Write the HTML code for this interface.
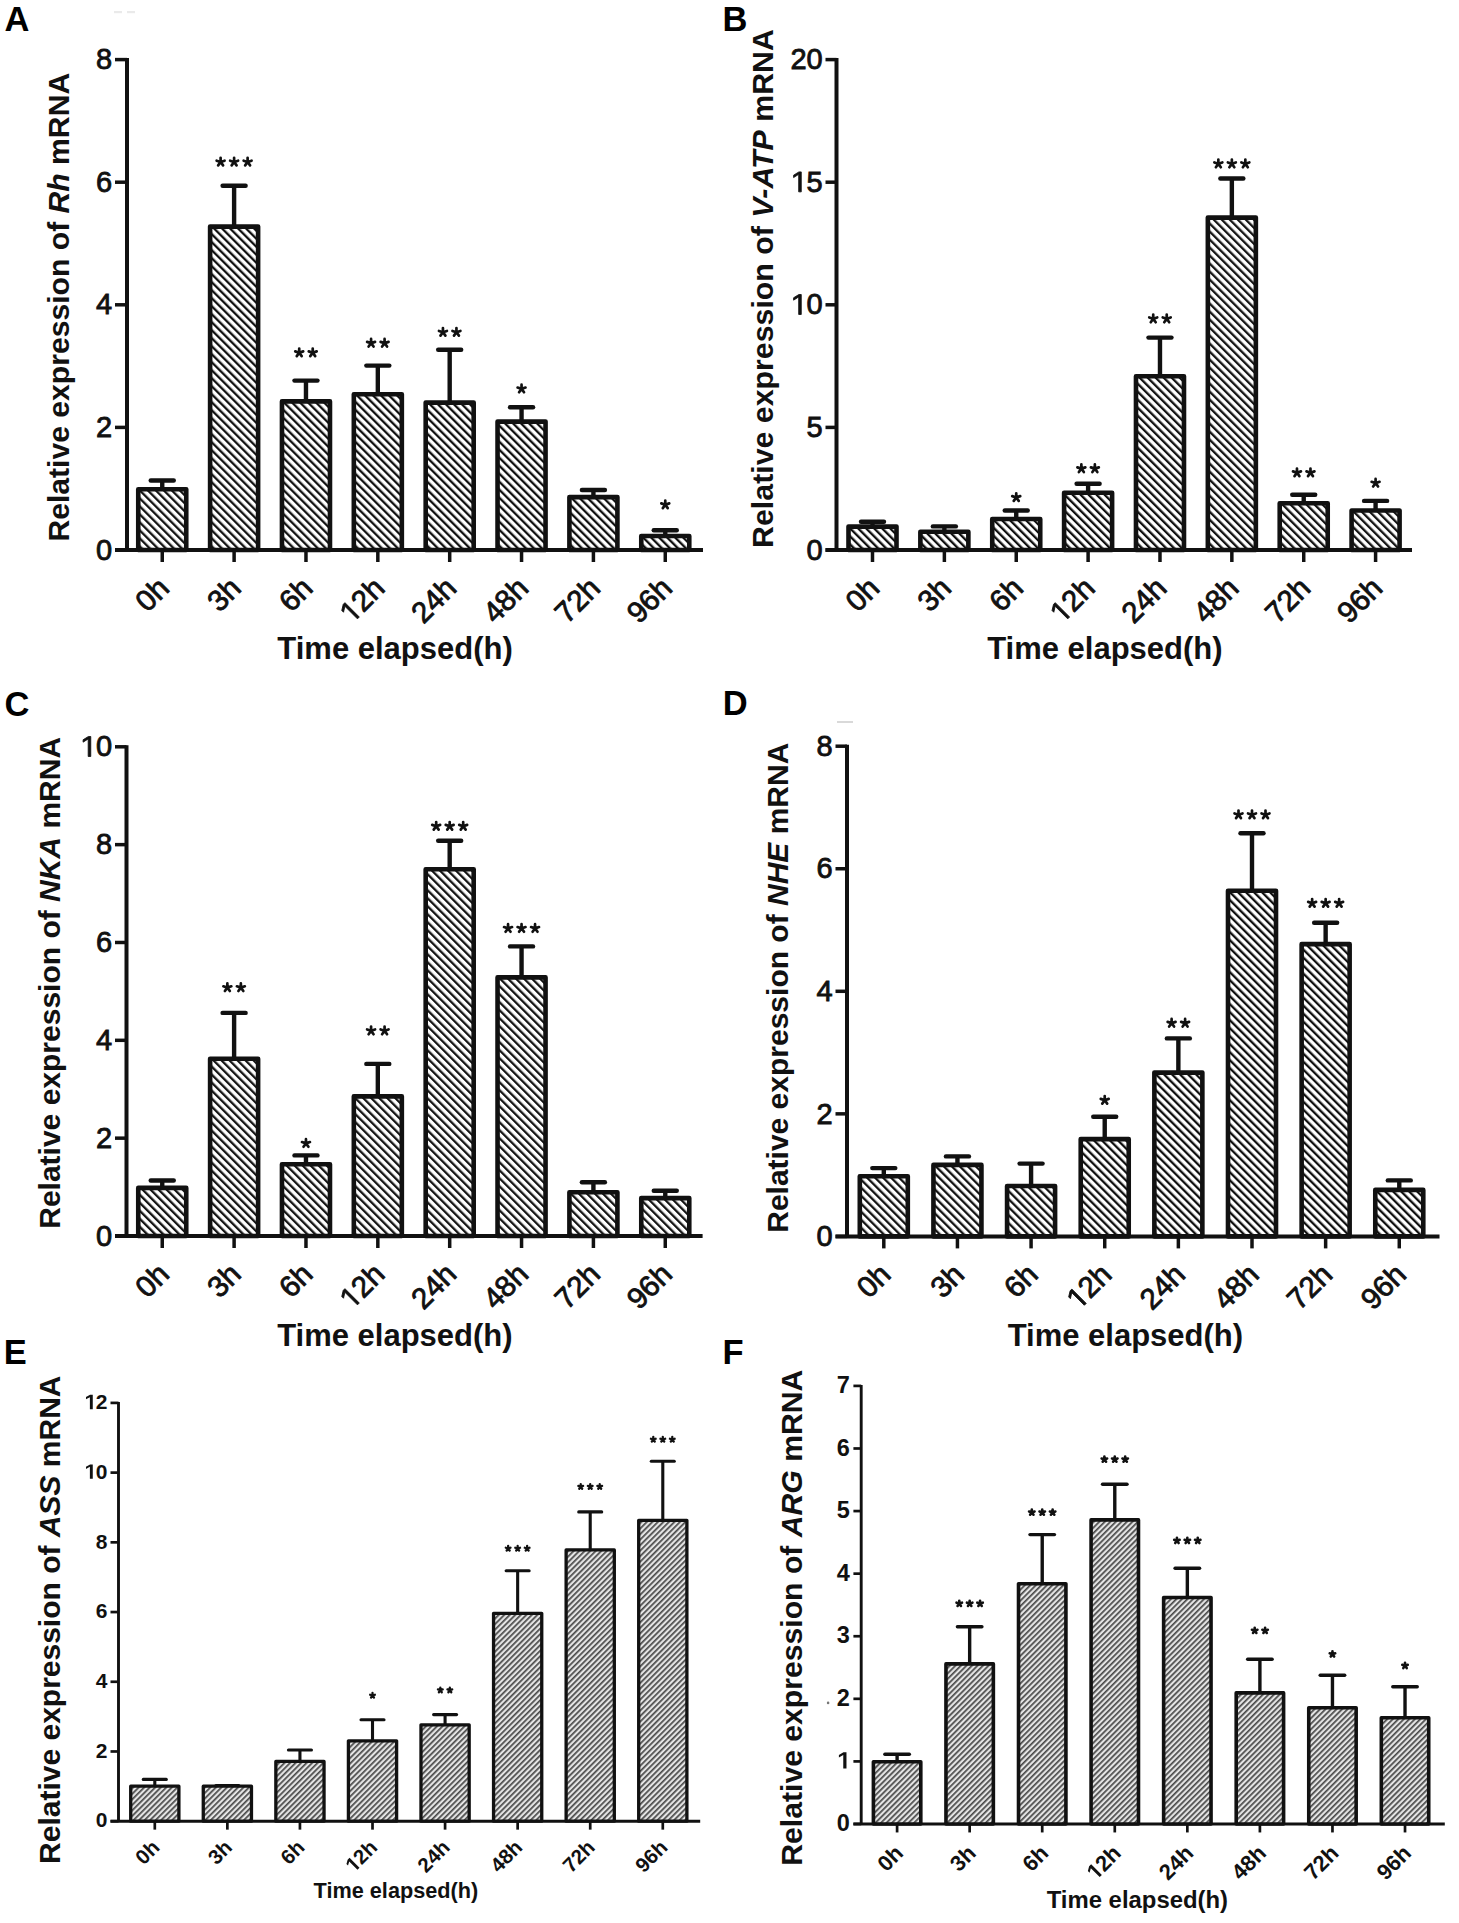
<!DOCTYPE html><html><head><meta charset="utf-8"><title>Figure</title><style>html,body{margin:0;padding:0;background:#fff;}svg{display:block;}text{font-family:"Liberation Sans", sans-serif;}</style></head><body>
<svg width="1459" height="1923" viewBox="0 0 1459 1923">
<defs>
<pattern id="hb" patternUnits="userSpaceOnUse" width="5.66" height="5.66" patternTransform="rotate(-45)"><rect width="5.66" height="5.66" fill="#fff"/><rect x="0" y="0" width="2.3" height="5.66" fill="#111"/></pattern>
<pattern id="hs" patternUnits="userSpaceOnUse" width="3.9" height="3.9" patternTransform="rotate(45)"><rect width="3.9" height="3.9" fill="#e4e4e4"/><rect x="0" y="0" width="1.7" height="3.9" fill="#4a4a4a"/></pattern>
</defs>
<rect width="1459" height="1923" fill="#fff"/>
<line x1="127" y1="58.10" x2="127" y2="550" stroke="#111" stroke-width="4.0"/><line x1="115" y1="550.00" x2="127" y2="550.00" stroke="#111" stroke-width="3.5"/><text x="112.20" y="559.67" font-size="29" font-weight="normal" stroke="#111" stroke-width="0.85" text-anchor="end" fill="#111">0</text><line x1="115" y1="427.40" x2="127" y2="427.40" stroke="#111" stroke-width="3.5"/><text x="112.20" y="437.07" font-size="29" font-weight="normal" stroke="#111" stroke-width="0.85" text-anchor="end" fill="#111">2</text><line x1="115" y1="304.80" x2="127" y2="304.80" stroke="#111" stroke-width="3.5"/><text x="112.20" y="314.47" font-size="29" font-weight="normal" stroke="#111" stroke-width="0.85" text-anchor="end" fill="#111">4</text><line x1="115" y1="182.20" x2="127" y2="182.20" stroke="#111" stroke-width="3.5"/><text x="112.20" y="191.87" font-size="29" font-weight="normal" stroke="#111" stroke-width="0.85" text-anchor="end" fill="#111">6</text><line x1="115" y1="59.60" x2="127" y2="59.60" stroke="#111" stroke-width="3.5"/><text x="112.20" y="69.27" font-size="29" font-weight="normal" stroke="#111" stroke-width="0.85" text-anchor="end" fill="#111">8</text><line x1="115" y1="550" x2="703" y2="550" stroke="#111" stroke-width="4.0"/><line x1="162.25" y1="480.50" x2="162.25" y2="488.00" stroke="#111" stroke-width="4.4"/><line x1="150.75" y1="480.50" x2="173.75" y2="480.50" stroke="#111" stroke-width="4.4" stroke-linecap="round"/><rect x="138.25" y="489.30" width="48.00" height="60.70" fill="url(#hb)" stroke="#111" stroke-width="4.6" stroke-linejoin="round"/><line x1="162.25" y1="550" x2="162.25" y2="562.00" stroke="#111" stroke-width="3.5"/><g transform="translate(170.75,590.00) rotate(-45)"><text x="0.00" y="0.00" font-size="29.5" font-weight="normal" stroke="#111" stroke-width="0.85" text-anchor="end" fill="#111">0h</text></g><line x1="234.11" y1="185.70" x2="234.11" y2="225.30" stroke="#111" stroke-width="4.4"/><line x1="222.61" y1="185.70" x2="245.61" y2="185.70" stroke="#111" stroke-width="4.4" stroke-linecap="round"/><rect x="210.11" y="226.60" width="48.00" height="323.40" fill="url(#hb)" stroke="#111" stroke-width="4.6" stroke-linejoin="round"/><line x1="234.11" y1="550" x2="234.11" y2="562.00" stroke="#111" stroke-width="3.5"/><g transform="translate(242.61,590.00) rotate(-45)"><text x="0.00" y="0.00" font-size="29.5" font-weight="normal" stroke="#111" stroke-width="0.85" text-anchor="end" fill="#111">3h</text></g><path d="M220.61 162.00L220.61 157.80M220.61 162.00L224.60 160.70M220.61 162.00L223.08 165.40M220.61 162.00L218.14 165.40M220.61 162.00L216.62 160.70" stroke="#111" stroke-width="2.7" stroke-linecap="round" fill="none"/><path d="M234.11 162.00L234.11 157.80M234.11 162.00L238.10 160.70M234.11 162.00L236.58 165.40M234.11 162.00L231.64 165.40M234.11 162.00L230.12 160.70" stroke="#111" stroke-width="2.7" stroke-linecap="round" fill="none"/><path d="M247.61 162.00L247.61 157.80M247.61 162.00L251.60 160.70M247.61 162.00L250.08 165.40M247.61 162.00L245.14 165.40M247.61 162.00L243.62 160.70" stroke="#111" stroke-width="2.7" stroke-linecap="round" fill="none"/><line x1="305.97" y1="380.60" x2="305.97" y2="400.10" stroke="#111" stroke-width="4.4"/><line x1="294.47" y1="380.60" x2="317.47" y2="380.60" stroke="#111" stroke-width="4.4" stroke-linecap="round"/><rect x="281.97" y="401.40" width="48.00" height="148.60" fill="url(#hb)" stroke="#111" stroke-width="4.6" stroke-linejoin="round"/><line x1="305.97" y1="550" x2="305.97" y2="562.00" stroke="#111" stroke-width="3.5"/><g transform="translate(314.47,590.00) rotate(-45)"><text x="0.00" y="0.00" font-size="29.5" font-weight="normal" stroke="#111" stroke-width="0.85" text-anchor="end" fill="#111">6h</text></g><path d="M299.22 352.70L299.22 348.50M299.22 352.70L303.21 351.40M299.22 352.70L301.69 356.10M299.22 352.70L296.75 356.10M299.22 352.70L295.23 351.40" stroke="#111" stroke-width="2.7" stroke-linecap="round" fill="none"/><path d="M312.72 352.70L312.72 348.50M312.72 352.70L316.71 351.40M312.72 352.70L315.19 356.10M312.72 352.70L310.25 356.10M312.72 352.70L308.73 351.40" stroke="#111" stroke-width="2.7" stroke-linecap="round" fill="none"/><line x1="377.83" y1="365.60" x2="377.83" y2="392.90" stroke="#111" stroke-width="4.4"/><line x1="366.33" y1="365.60" x2="389.33" y2="365.60" stroke="#111" stroke-width="4.4" stroke-linecap="round"/><rect x="353.83" y="394.20" width="48.00" height="155.80" fill="url(#hb)" stroke="#111" stroke-width="4.6" stroke-linejoin="round"/><line x1="377.83" y1="550" x2="377.83" y2="562.00" stroke="#111" stroke-width="3.5"/><g transform="translate(386.33,590.00) rotate(-45)"><path d="M-40.82 0.00 L-40.82 -17.82 L-46.01 -14.55 L-46.01 -17.00 L-40.61 -20.30 L-38.21 -20.30 L-38.21 0.00 Z" stroke="#111" stroke-width="0.85" fill="#111"/><text x="-32.81" y="0.00" font-size="29.5" font-weight="normal" stroke="#111" stroke-width="0.85" fill="#111">2h</text></g><path d="M371.08 343.15L371.08 338.95M371.08 343.15L375.07 341.85M371.08 343.15L373.55 346.55M371.08 343.15L368.61 346.55M371.08 343.15L367.09 341.85" stroke="#111" stroke-width="2.7" stroke-linecap="round" fill="none"/><path d="M384.58 343.15L384.58 338.95M384.58 343.15L388.57 341.85M384.58 343.15L387.05 346.55M384.58 343.15L382.11 346.55M384.58 343.15L380.59 341.85" stroke="#111" stroke-width="2.7" stroke-linecap="round" fill="none"/><line x1="449.69" y1="349.80" x2="449.69" y2="401.30" stroke="#111" stroke-width="4.4"/><line x1="438.19" y1="349.80" x2="461.19" y2="349.80" stroke="#111" stroke-width="4.4" stroke-linecap="round"/><rect x="425.69" y="402.60" width="48.00" height="147.40" fill="url(#hb)" stroke="#111" stroke-width="4.6" stroke-linejoin="round"/><line x1="449.69" y1="550" x2="449.69" y2="562.00" stroke="#111" stroke-width="3.5"/><g transform="translate(458.19,590.00) rotate(-45)"><text x="0.00" y="0.00" font-size="29.5" font-weight="normal" stroke="#111" stroke-width="0.85" text-anchor="end" fill="#111">24h</text></g><path d="M442.94 332.25L442.94 328.05M442.94 332.25L446.93 330.95M442.94 332.25L445.41 335.65M442.94 332.25L440.47 335.65M442.94 332.25L438.95 330.95" stroke="#111" stroke-width="2.7" stroke-linecap="round" fill="none"/><path d="M456.44 332.25L456.44 328.05M456.44 332.25L460.43 330.95M456.44 332.25L458.91 335.65M456.44 332.25L453.97 335.65M456.44 332.25L452.45 330.95" stroke="#111" stroke-width="2.7" stroke-linecap="round" fill="none"/><line x1="521.55" y1="407.30" x2="521.55" y2="420.30" stroke="#111" stroke-width="4.4"/><line x1="510.05" y1="407.30" x2="533.05" y2="407.30" stroke="#111" stroke-width="4.4" stroke-linecap="round"/><rect x="497.55" y="421.60" width="48.00" height="128.40" fill="url(#hb)" stroke="#111" stroke-width="4.6" stroke-linejoin="round"/><line x1="521.55" y1="550" x2="521.55" y2="562.00" stroke="#111" stroke-width="3.5"/><g transform="translate(530.05,590.00) rotate(-45)"><text x="0.00" y="0.00" font-size="29.5" font-weight="normal" stroke="#111" stroke-width="0.85" text-anchor="end" fill="#111">48h</text></g><path d="M521.55 388.85L521.55 384.65M521.55 388.85L525.54 387.55M521.55 388.85L524.02 392.25M521.55 388.85L519.08 392.25M521.55 388.85L517.56 387.55" stroke="#111" stroke-width="2.7" stroke-linecap="round" fill="none"/><line x1="593.41" y1="490.00" x2="593.41" y2="495.80" stroke="#111" stroke-width="4.4"/><line x1="581.91" y1="490.00" x2="604.91" y2="490.00" stroke="#111" stroke-width="4.4" stroke-linecap="round"/><rect x="569.41" y="497.10" width="48.00" height="52.90" fill="url(#hb)" stroke="#111" stroke-width="4.6" stroke-linejoin="round"/><line x1="593.41" y1="550" x2="593.41" y2="562.00" stroke="#111" stroke-width="3.5"/><g transform="translate(601.91,590.00) rotate(-45)"><text x="0.00" y="0.00" font-size="29.5" font-weight="normal" stroke="#111" stroke-width="0.85" text-anchor="end" fill="#111">72h</text></g><line x1="665.27" y1="530.30" x2="665.27" y2="534.70" stroke="#111" stroke-width="4.4"/><line x1="653.77" y1="530.30" x2="676.77" y2="530.30" stroke="#111" stroke-width="4.4" stroke-linecap="round"/><rect x="641.27" y="536.00" width="48.00" height="14.00" fill="url(#hb)" stroke="#111" stroke-width="4.6" stroke-linejoin="round"/><line x1="665.27" y1="550" x2="665.27" y2="562.00" stroke="#111" stroke-width="3.5"/><g transform="translate(673.77,590.00) rotate(-45)"><text x="0.00" y="0.00" font-size="29.5" font-weight="normal" stroke="#111" stroke-width="0.85" text-anchor="end" fill="#111">96h</text></g><path d="M665.27 504.70L665.27 500.50M665.27 504.70L669.26 503.40M665.27 504.70L667.74 508.10M665.27 504.70L662.80 508.10M665.27 504.70L661.28 503.40" stroke="#111" stroke-width="2.7" stroke-linecap="round" fill="none"/><text transform="translate(68.9,307.2) rotate(-90)" font-size="30" font-weight="bold" text-anchor="middle" textLength="468.7" lengthAdjust="spacingAndGlyphs" fill="#111">Relative expression of <tspan font-style="italic">Rh</tspan> mRNA</text><text x="277.35" y="659" font-size="31" font-weight="bold" fill="#111">Time elapsed(h)</text><text x="4.6" y="30.8" font-size="34.5" font-weight="bold" fill="#000">A</text>
<line x1="836.5" y1="58.10" x2="836.5" y2="550" stroke="#111" stroke-width="4.0"/><line x1="825.5" y1="550.00" x2="836.5" y2="550.00" stroke="#111" stroke-width="3.5"/><text x="822.70" y="559.67" font-size="29" font-weight="normal" stroke="#111" stroke-width="0.85" text-anchor="end" fill="#111">0</text><line x1="825.5" y1="427.40" x2="836.5" y2="427.40" stroke="#111" stroke-width="3.5"/><text x="822.70" y="437.07" font-size="29" font-weight="normal" stroke="#111" stroke-width="0.85" text-anchor="end" fill="#111">5</text><line x1="825.5" y1="304.80" x2="836.5" y2="304.80" stroke="#111" stroke-width="3.5"/><path d="M798.70 314.47 L798.70 296.95 L793.60 300.16 L793.60 297.76 L798.91 294.51 L801.26 294.51 L801.26 314.47 Z" stroke="#111" stroke-width="0.85" fill="#111"/><text x="806.57" y="314.47" font-size="29" font-weight="normal" stroke="#111" stroke-width="0.85" fill="#111">0</text><line x1="825.5" y1="182.20" x2="836.5" y2="182.20" stroke="#111" stroke-width="3.5"/><path d="M798.70 191.87 L798.70 174.35 L793.60 177.56 L793.60 175.16 L798.91 171.91 L801.26 171.91 L801.26 191.87 Z" stroke="#111" stroke-width="0.85" fill="#111"/><text x="806.57" y="191.87" font-size="29" font-weight="normal" stroke="#111" stroke-width="0.85" fill="#111">5</text><line x1="825.5" y1="59.60" x2="836.5" y2="59.60" stroke="#111" stroke-width="3.5"/><text x="822.70" y="69.27" font-size="29" font-weight="normal" stroke="#111" stroke-width="0.85" text-anchor="end" fill="#111">20</text><line x1="825.5" y1="550" x2="1412" y2="550" stroke="#111" stroke-width="4.0"/><line x1="872.50" y1="521.80" x2="872.50" y2="525.30" stroke="#111" stroke-width="4.4"/><line x1="861.00" y1="521.80" x2="884.00" y2="521.80" stroke="#111" stroke-width="4.4" stroke-linecap="round"/><rect x="848.50" y="526.60" width="48.00" height="23.40" fill="url(#hb)" stroke="#111" stroke-width="4.6" stroke-linejoin="round"/><line x1="872.50" y1="550" x2="872.50" y2="562.00" stroke="#111" stroke-width="3.5"/><g transform="translate(881.00,590.00) rotate(-45)"><text x="0.00" y="0.00" font-size="29.5" font-weight="normal" stroke="#111" stroke-width="0.85" text-anchor="end" fill="#111">0h</text></g><line x1="944.37" y1="526.40" x2="944.37" y2="530.50" stroke="#111" stroke-width="4.4"/><line x1="932.87" y1="526.40" x2="955.87" y2="526.40" stroke="#111" stroke-width="4.4" stroke-linecap="round"/><rect x="920.37" y="531.80" width="48.00" height="18.20" fill="url(#hb)" stroke="#111" stroke-width="4.6" stroke-linejoin="round"/><line x1="944.37" y1="550" x2="944.37" y2="562.00" stroke="#111" stroke-width="3.5"/><g transform="translate(952.87,590.00) rotate(-45)"><text x="0.00" y="0.00" font-size="29.5" font-weight="normal" stroke="#111" stroke-width="0.85" text-anchor="end" fill="#111">3h</text></g><line x1="1016.24" y1="510.50" x2="1016.24" y2="517.70" stroke="#111" stroke-width="4.4"/><line x1="1004.74" y1="510.50" x2="1027.74" y2="510.50" stroke="#111" stroke-width="4.4" stroke-linecap="round"/><rect x="992.24" y="519.00" width="48.00" height="31.00" fill="url(#hb)" stroke="#111" stroke-width="4.6" stroke-linejoin="round"/><line x1="1016.24" y1="550" x2="1016.24" y2="562.00" stroke="#111" stroke-width="3.5"/><g transform="translate(1024.74,590.00) rotate(-45)"><text x="0.00" y="0.00" font-size="29.5" font-weight="normal" stroke="#111" stroke-width="0.85" text-anchor="end" fill="#111">6h</text></g><path d="M1016.24 497.45L1016.24 493.25M1016.24 497.45L1020.23 496.15M1016.24 497.45L1018.71 500.85M1016.24 497.45L1013.77 500.85M1016.24 497.45L1012.25 496.15" stroke="#111" stroke-width="2.7" stroke-linecap="round" fill="none"/><line x1="1088.11" y1="483.80" x2="1088.11" y2="491.40" stroke="#111" stroke-width="4.4"/><line x1="1076.61" y1="483.80" x2="1099.61" y2="483.80" stroke="#111" stroke-width="4.4" stroke-linecap="round"/><rect x="1064.11" y="492.70" width="48.00" height="57.30" fill="url(#hb)" stroke="#111" stroke-width="4.6" stroke-linejoin="round"/><line x1="1088.11" y1="550" x2="1088.11" y2="562.00" stroke="#111" stroke-width="3.5"/><g transform="translate(1096.61,590.00) rotate(-45)"><path d="M-40.82 0.00 L-40.82 -17.82 L-46.01 -14.55 L-46.01 -17.00 L-40.61 -20.30 L-38.21 -20.30 L-38.21 0.00 Z" stroke="#111" stroke-width="0.85" fill="#111"/><text x="-32.81" y="0.00" font-size="29.5" font-weight="normal" stroke="#111" stroke-width="0.85" fill="#111">2h</text></g><path d="M1081.36 468.65L1081.36 464.45M1081.36 468.65L1085.35 467.35M1081.36 468.65L1083.83 472.05M1081.36 468.65L1078.89 472.05M1081.36 468.65L1077.37 467.35" stroke="#111" stroke-width="2.7" stroke-linecap="round" fill="none"/><path d="M1094.86 468.65L1094.86 464.45M1094.86 468.65L1098.85 467.35M1094.86 468.65L1097.33 472.05M1094.86 468.65L1092.39 472.05M1094.86 468.65L1090.87 467.35" stroke="#111" stroke-width="2.7" stroke-linecap="round" fill="none"/><line x1="1159.98" y1="337.60" x2="1159.98" y2="375.00" stroke="#111" stroke-width="4.4"/><line x1="1148.48" y1="337.60" x2="1171.48" y2="337.60" stroke="#111" stroke-width="4.4" stroke-linecap="round"/><rect x="1135.98" y="376.30" width="48.00" height="173.70" fill="url(#hb)" stroke="#111" stroke-width="4.6" stroke-linejoin="round"/><line x1="1159.98" y1="550" x2="1159.98" y2="562.00" stroke="#111" stroke-width="3.5"/><g transform="translate(1168.48,590.00) rotate(-45)"><text x="0.00" y="0.00" font-size="29.5" font-weight="normal" stroke="#111" stroke-width="0.85" text-anchor="end" fill="#111">24h</text></g><path d="M1153.23 318.80L1153.23 314.60M1153.23 318.80L1157.22 317.50M1153.23 318.80L1155.70 322.20M1153.23 318.80L1150.76 322.20M1153.23 318.80L1149.24 317.50" stroke="#111" stroke-width="2.7" stroke-linecap="round" fill="none"/><path d="M1166.73 318.80L1166.73 314.60M1166.73 318.80L1170.72 317.50M1166.73 318.80L1169.20 322.20M1166.73 318.80L1164.26 322.20M1166.73 318.80L1162.74 317.50" stroke="#111" stroke-width="2.7" stroke-linecap="round" fill="none"/><line x1="1231.85" y1="178.50" x2="1231.85" y2="216.30" stroke="#111" stroke-width="4.4"/><line x1="1220.35" y1="178.50" x2="1243.35" y2="178.50" stroke="#111" stroke-width="4.4" stroke-linecap="round"/><rect x="1207.85" y="217.60" width="48.00" height="332.40" fill="url(#hb)" stroke="#111" stroke-width="4.6" stroke-linejoin="round"/><line x1="1231.85" y1="550" x2="1231.85" y2="562.00" stroke="#111" stroke-width="3.5"/><g transform="translate(1240.35,590.00) rotate(-45)"><text x="0.00" y="0.00" font-size="29.5" font-weight="normal" stroke="#111" stroke-width="0.85" text-anchor="end" fill="#111">48h</text></g><path d="M1218.35 163.80L1218.35 159.60M1218.35 163.80L1222.34 162.50M1218.35 163.80L1220.82 167.20M1218.35 163.80L1215.88 167.20M1218.35 163.80L1214.36 162.50" stroke="#111" stroke-width="2.7" stroke-linecap="round" fill="none"/><path d="M1231.85 163.80L1231.85 159.60M1231.85 163.80L1235.84 162.50M1231.85 163.80L1234.32 167.20M1231.85 163.80L1229.38 167.20M1231.85 163.80L1227.86 162.50" stroke="#111" stroke-width="2.7" stroke-linecap="round" fill="none"/><path d="M1245.35 163.80L1245.35 159.60M1245.35 163.80L1249.34 162.50M1245.35 163.80L1247.82 167.20M1245.35 163.80L1242.88 167.20M1245.35 163.80L1241.36 162.50" stroke="#111" stroke-width="2.7" stroke-linecap="round" fill="none"/><line x1="1303.72" y1="494.70" x2="1303.72" y2="501.90" stroke="#111" stroke-width="4.4"/><line x1="1292.22" y1="494.70" x2="1315.22" y2="494.70" stroke="#111" stroke-width="4.4" stroke-linecap="round"/><rect x="1279.72" y="503.20" width="48.00" height="46.80" fill="url(#hb)" stroke="#111" stroke-width="4.6" stroke-linejoin="round"/><line x1="1303.72" y1="550" x2="1303.72" y2="562.00" stroke="#111" stroke-width="3.5"/><g transform="translate(1312.22,590.00) rotate(-45)"><text x="0.00" y="0.00" font-size="29.5" font-weight="normal" stroke="#111" stroke-width="0.85" text-anchor="end" fill="#111">72h</text></g><path d="M1296.97 472.70L1296.97 468.50M1296.97 472.70L1300.96 471.40M1296.97 472.70L1299.44 476.10M1296.97 472.70L1294.50 476.10M1296.97 472.70L1292.98 471.40" stroke="#111" stroke-width="2.7" stroke-linecap="round" fill="none"/><path d="M1310.47 472.70L1310.47 468.50M1310.47 472.70L1314.46 471.40M1310.47 472.70L1312.94 476.10M1310.47 472.70L1308.00 476.10M1310.47 472.70L1306.48 471.40" stroke="#111" stroke-width="2.7" stroke-linecap="round" fill="none"/><line x1="1375.59" y1="500.90" x2="1375.59" y2="509.20" stroke="#111" stroke-width="4.4"/><line x1="1364.09" y1="500.90" x2="1387.09" y2="500.90" stroke="#111" stroke-width="4.4" stroke-linecap="round"/><rect x="1351.59" y="510.50" width="48.00" height="39.50" fill="url(#hb)" stroke="#111" stroke-width="4.6" stroke-linejoin="round"/><line x1="1375.59" y1="550" x2="1375.59" y2="562.00" stroke="#111" stroke-width="3.5"/><g transform="translate(1384.09,590.00) rotate(-45)"><text x="0.00" y="0.00" font-size="29.5" font-weight="normal" stroke="#111" stroke-width="0.85" text-anchor="end" fill="#111">96h</text></g><path d="M1375.59 483.10L1375.59 478.90M1375.59 483.10L1379.58 481.80M1375.59 483.10L1378.06 486.50M1375.59 483.10L1373.12 486.50M1375.59 483.10L1371.60 481.80" stroke="#111" stroke-width="2.7" stroke-linecap="round" fill="none"/><text transform="translate(773.1,288.5) rotate(-90)" font-size="30" font-weight="bold" text-anchor="middle" textLength="518.8" lengthAdjust="spacingAndGlyphs" fill="#111">Relative expression of <tspan font-style="italic">V-ATP</tspan> mRNA</text><text x="987.15" y="659.1" font-size="31" font-weight="bold" fill="#111">Time elapsed(h)</text><text x="722.5" y="30.7" font-size="34.5" font-weight="bold" fill="#000">B</text>
<line x1="126.5" y1="745.30" x2="126.5" y2="1236" stroke="#111" stroke-width="4.0"/><line x1="115" y1="1236.00" x2="126.5" y2="1236.00" stroke="#111" stroke-width="3.5"/><text x="112.20" y="1245.67" font-size="29" font-weight="normal" stroke="#111" stroke-width="0.85" text-anchor="end" fill="#111">0</text><line x1="115" y1="1138.16" x2="126.5" y2="1138.16" stroke="#111" stroke-width="3.5"/><text x="112.20" y="1147.83" font-size="29" font-weight="normal" stroke="#111" stroke-width="0.85" text-anchor="end" fill="#111">2</text><line x1="115" y1="1040.32" x2="126.5" y2="1040.32" stroke="#111" stroke-width="3.5"/><text x="112.20" y="1049.99" font-size="29" font-weight="normal" stroke="#111" stroke-width="0.85" text-anchor="end" fill="#111">4</text><line x1="115" y1="942.48" x2="126.5" y2="942.48" stroke="#111" stroke-width="3.5"/><text x="112.20" y="952.15" font-size="29" font-weight="normal" stroke="#111" stroke-width="0.85" text-anchor="end" fill="#111">6</text><line x1="115" y1="844.64" x2="126.5" y2="844.64" stroke="#111" stroke-width="3.5"/><text x="112.20" y="854.31" font-size="29" font-weight="normal" stroke="#111" stroke-width="0.85" text-anchor="end" fill="#111">8</text><line x1="115" y1="746.80" x2="126.5" y2="746.80" stroke="#111" stroke-width="3.5"/><path d="M88.20 756.47 L88.20 738.95 L83.10 742.16 L83.10 739.76 L88.41 736.51 L90.76 736.51 L90.76 756.47 Z" stroke="#111" stroke-width="0.85" fill="#111"/><text x="96.07" y="756.47" font-size="29" font-weight="normal" stroke="#111" stroke-width="0.85" fill="#111">0</text><line x1="115" y1="1236" x2="702.6" y2="1236" stroke="#111" stroke-width="4.0"/><line x1="162.25" y1="1180.50" x2="162.25" y2="1186.60" stroke="#111" stroke-width="4.4"/><line x1="150.75" y1="1180.50" x2="173.75" y2="1180.50" stroke="#111" stroke-width="4.4" stroke-linecap="round"/><rect x="138.25" y="1187.90" width="48.00" height="48.10" fill="url(#hb)" stroke="#111" stroke-width="4.6" stroke-linejoin="round"/><line x1="162.25" y1="1236" x2="162.25" y2="1248.00" stroke="#111" stroke-width="3.5"/><g transform="translate(170.75,1276.00) rotate(-45)"><text x="0.00" y="0.00" font-size="29.5" font-weight="normal" stroke="#111" stroke-width="0.85" text-anchor="end" fill="#111">0h</text></g><line x1="234.11" y1="1012.90" x2="234.11" y2="1057.50" stroke="#111" stroke-width="4.4"/><line x1="222.61" y1="1012.90" x2="245.61" y2="1012.90" stroke="#111" stroke-width="4.4" stroke-linecap="round"/><rect x="210.11" y="1058.80" width="48.00" height="177.20" fill="url(#hb)" stroke="#111" stroke-width="4.6" stroke-linejoin="round"/><line x1="234.11" y1="1236" x2="234.11" y2="1248.00" stroke="#111" stroke-width="3.5"/><g transform="translate(242.61,1276.00) rotate(-45)"><text x="0.00" y="0.00" font-size="29.5" font-weight="normal" stroke="#111" stroke-width="0.85" text-anchor="end" fill="#111">3h</text></g><path d="M227.36 987.60L227.36 983.40M227.36 987.60L231.35 986.30M227.36 987.60L229.83 991.00M227.36 987.60L224.89 991.00M227.36 987.60L223.37 986.30" stroke="#111" stroke-width="2.7" stroke-linecap="round" fill="none"/><path d="M240.86 987.60L240.86 983.40M240.86 987.60L244.85 986.30M240.86 987.60L243.33 991.00M240.86 987.60L238.39 991.00M240.86 987.60L236.87 986.30" stroke="#111" stroke-width="2.7" stroke-linecap="round" fill="none"/><line x1="305.97" y1="1155.40" x2="305.97" y2="1163.00" stroke="#111" stroke-width="4.4"/><line x1="294.47" y1="1155.40" x2="317.47" y2="1155.40" stroke="#111" stroke-width="4.4" stroke-linecap="round"/><rect x="281.97" y="1164.30" width="48.00" height="71.70" fill="url(#hb)" stroke="#111" stroke-width="4.6" stroke-linejoin="round"/><line x1="305.97" y1="1236" x2="305.97" y2="1248.00" stroke="#111" stroke-width="3.5"/><g transform="translate(314.47,1276.00) rotate(-45)"><text x="0.00" y="0.00" font-size="29.5" font-weight="normal" stroke="#111" stroke-width="0.85" text-anchor="end" fill="#111">6h</text></g><path d="M305.97 1143.35L305.97 1139.15M305.97 1143.35L309.96 1142.05M305.97 1143.35L308.44 1146.75M305.97 1143.35L303.50 1146.75M305.97 1143.35L301.98 1142.05" stroke="#111" stroke-width="2.7" stroke-linecap="round" fill="none"/><line x1="377.83" y1="1063.90" x2="377.83" y2="1095.10" stroke="#111" stroke-width="4.4"/><line x1="366.33" y1="1063.90" x2="389.33" y2="1063.90" stroke="#111" stroke-width="4.4" stroke-linecap="round"/><rect x="353.83" y="1096.40" width="48.00" height="139.60" fill="url(#hb)" stroke="#111" stroke-width="4.6" stroke-linejoin="round"/><line x1="377.83" y1="1236" x2="377.83" y2="1248.00" stroke="#111" stroke-width="3.5"/><g transform="translate(386.33,1276.00) rotate(-45)"><path d="M-40.82 0.00 L-40.82 -17.82 L-46.01 -14.55 L-46.01 -17.00 L-40.61 -20.30 L-38.21 -20.30 L-38.21 0.00 Z" stroke="#111" stroke-width="0.85" fill="#111"/><text x="-32.81" y="0.00" font-size="29.5" font-weight="normal" stroke="#111" stroke-width="0.85" fill="#111">2h</text></g><path d="M371.08 1030.80L371.08 1026.60M371.08 1030.80L375.07 1029.50M371.08 1030.80L373.55 1034.20M371.08 1030.80L368.61 1034.20M371.08 1030.80L367.09 1029.50" stroke="#111" stroke-width="2.7" stroke-linecap="round" fill="none"/><path d="M384.58 1030.80L384.58 1026.60M384.58 1030.80L388.57 1029.50M384.58 1030.80L387.05 1034.20M384.58 1030.80L382.11 1034.20M384.58 1030.80L380.59 1029.50" stroke="#111" stroke-width="2.7" stroke-linecap="round" fill="none"/><line x1="449.69" y1="840.70" x2="449.69" y2="868.00" stroke="#111" stroke-width="4.4"/><line x1="438.19" y1="840.70" x2="461.19" y2="840.70" stroke="#111" stroke-width="4.4" stroke-linecap="round"/><rect x="425.69" y="869.30" width="48.00" height="366.70" fill="url(#hb)" stroke="#111" stroke-width="4.6" stroke-linejoin="round"/><line x1="449.69" y1="1236" x2="449.69" y2="1248.00" stroke="#111" stroke-width="3.5"/><g transform="translate(458.19,1276.00) rotate(-45)"><text x="0.00" y="0.00" font-size="29.5" font-weight="normal" stroke="#111" stroke-width="0.85" text-anchor="end" fill="#111">24h</text></g><path d="M436.19 826.20L436.19 822.00M436.19 826.20L440.18 824.90M436.19 826.20L438.66 829.60M436.19 826.20L433.72 829.60M436.19 826.20L432.20 824.90" stroke="#111" stroke-width="2.7" stroke-linecap="round" fill="none"/><path d="M449.69 826.20L449.69 822.00M449.69 826.20L453.68 824.90M449.69 826.20L452.16 829.60M449.69 826.20L447.22 829.60M449.69 826.20L445.70 824.90" stroke="#111" stroke-width="2.7" stroke-linecap="round" fill="none"/><path d="M463.19 826.20L463.19 822.00M463.19 826.20L467.18 824.90M463.19 826.20L465.66 829.60M463.19 826.20L460.72 829.60M463.19 826.20L459.20 824.90" stroke="#111" stroke-width="2.7" stroke-linecap="round" fill="none"/><line x1="521.55" y1="946.40" x2="521.55" y2="976.10" stroke="#111" stroke-width="4.4"/><line x1="510.05" y1="946.40" x2="533.05" y2="946.40" stroke="#111" stroke-width="4.4" stroke-linecap="round"/><rect x="497.55" y="977.40" width="48.00" height="258.60" fill="url(#hb)" stroke="#111" stroke-width="4.6" stroke-linejoin="round"/><line x1="521.55" y1="1236" x2="521.55" y2="1248.00" stroke="#111" stroke-width="3.5"/><g transform="translate(530.05,1276.00) rotate(-45)"><text x="0.00" y="0.00" font-size="29.5" font-weight="normal" stroke="#111" stroke-width="0.85" text-anchor="end" fill="#111">48h</text></g><path d="M508.05 928.35L508.05 924.15M508.05 928.35L512.04 927.05M508.05 928.35L510.52 931.75M508.05 928.35L505.58 931.75M508.05 928.35L504.06 927.05" stroke="#111" stroke-width="2.7" stroke-linecap="round" fill="none"/><path d="M521.55 928.35L521.55 924.15M521.55 928.35L525.54 927.05M521.55 928.35L524.02 931.75M521.55 928.35L519.08 931.75M521.55 928.35L517.56 927.05" stroke="#111" stroke-width="2.7" stroke-linecap="round" fill="none"/><path d="M535.05 928.35L535.05 924.15M535.05 928.35L539.04 927.05M535.05 928.35L537.52 931.75M535.05 928.35L532.58 931.75M535.05 928.35L531.06 927.05" stroke="#111" stroke-width="2.7" stroke-linecap="round" fill="none"/><line x1="593.41" y1="1182.20" x2="593.41" y2="1190.90" stroke="#111" stroke-width="4.4"/><line x1="581.91" y1="1182.20" x2="604.91" y2="1182.20" stroke="#111" stroke-width="4.4" stroke-linecap="round"/><rect x="569.41" y="1192.20" width="48.00" height="43.80" fill="url(#hb)" stroke="#111" stroke-width="4.6" stroke-linejoin="round"/><line x1="593.41" y1="1236" x2="593.41" y2="1248.00" stroke="#111" stroke-width="3.5"/><g transform="translate(601.91,1276.00) rotate(-45)"><text x="0.00" y="0.00" font-size="29.5" font-weight="normal" stroke="#111" stroke-width="0.85" text-anchor="end" fill="#111">72h</text></g><line x1="665.27" y1="1190.80" x2="665.27" y2="1196.80" stroke="#111" stroke-width="4.4"/><line x1="653.77" y1="1190.80" x2="676.77" y2="1190.80" stroke="#111" stroke-width="4.4" stroke-linecap="round"/><rect x="641.27" y="1198.10" width="48.00" height="37.90" fill="url(#hb)" stroke="#111" stroke-width="4.6" stroke-linejoin="round"/><line x1="665.27" y1="1236" x2="665.27" y2="1248.00" stroke="#111" stroke-width="3.5"/><g transform="translate(673.77,1276.00) rotate(-45)"><text x="0.00" y="0.00" font-size="29.5" font-weight="normal" stroke="#111" stroke-width="0.85" text-anchor="end" fill="#111">96h</text></g><text transform="translate(60.3,982.85) rotate(-90)" font-size="30" font-weight="bold" text-anchor="middle" fill="#111">Relative expression of <tspan font-style="italic">NKA</tspan> mRNA</text><text x="277.15" y="1345.6" font-size="31" font-weight="bold" fill="#111">Time elapsed(h)</text><text x="4.4" y="715.7" font-size="34.5" font-weight="bold" fill="#000">C</text>
<line x1="847" y1="744.70" x2="847" y2="1236.4" stroke="#111" stroke-width="4.0"/><line x1="835.5" y1="1236.40" x2="847" y2="1236.40" stroke="#111" stroke-width="3.5"/><text x="832.70" y="1246.07" font-size="29" font-weight="normal" stroke="#111" stroke-width="0.85" text-anchor="end" fill="#111">0</text><line x1="835.5" y1="1113.85" x2="847" y2="1113.85" stroke="#111" stroke-width="3.5"/><text x="832.70" y="1123.52" font-size="29" font-weight="normal" stroke="#111" stroke-width="0.85" text-anchor="end" fill="#111">2</text><line x1="835.5" y1="991.30" x2="847" y2="991.30" stroke="#111" stroke-width="3.5"/><text x="832.70" y="1000.97" font-size="29" font-weight="normal" stroke="#111" stroke-width="0.85" text-anchor="end" fill="#111">4</text><line x1="835.5" y1="868.75" x2="847" y2="868.75" stroke="#111" stroke-width="3.5"/><text x="832.70" y="878.42" font-size="29" font-weight="normal" stroke="#111" stroke-width="0.85" text-anchor="end" fill="#111">6</text><line x1="835.5" y1="746.20" x2="847" y2="746.20" stroke="#111" stroke-width="3.5"/><text x="832.70" y="755.87" font-size="29" font-weight="normal" stroke="#111" stroke-width="0.85" text-anchor="end" fill="#111">8</text><line x1="835.5" y1="1236.4" x2="1439.5" y2="1236.4" stroke="#111" stroke-width="4.0"/><line x1="883.80" y1="1168.10" x2="883.80" y2="1174.90" stroke="#111" stroke-width="4.4"/><line x1="872.30" y1="1168.10" x2="895.30" y2="1168.10" stroke="#111" stroke-width="4.4" stroke-linecap="round"/><rect x="859.80" y="1176.20" width="48.00" height="60.20" fill="url(#hb)" stroke="#111" stroke-width="4.6" stroke-linejoin="round"/><line x1="883.80" y1="1236.4" x2="883.80" y2="1248.40" stroke="#111" stroke-width="3.5"/><g transform="translate(892.30,1276.40) rotate(-45)"><text x="0.00" y="0.00" font-size="29.5" font-weight="normal" stroke="#111" stroke-width="0.85" text-anchor="end" fill="#111">0h</text></g><line x1="957.44" y1="1156.40" x2="957.44" y2="1163.60" stroke="#111" stroke-width="4.4"/><line x1="945.94" y1="1156.40" x2="968.94" y2="1156.40" stroke="#111" stroke-width="4.4" stroke-linecap="round"/><rect x="933.44" y="1164.90" width="48.00" height="71.50" fill="url(#hb)" stroke="#111" stroke-width="4.6" stroke-linejoin="round"/><line x1="957.44" y1="1236.4" x2="957.44" y2="1248.40" stroke="#111" stroke-width="3.5"/><g transform="translate(965.94,1276.40) rotate(-45)"><text x="0.00" y="0.00" font-size="29.5" font-weight="normal" stroke="#111" stroke-width="0.85" text-anchor="end" fill="#111">3h</text></g><line x1="1031.08" y1="1163.60" x2="1031.08" y2="1184.70" stroke="#111" stroke-width="4.4"/><line x1="1019.58" y1="1163.60" x2="1042.58" y2="1163.60" stroke="#111" stroke-width="4.4" stroke-linecap="round"/><rect x="1007.08" y="1186.00" width="48.00" height="50.40" fill="url(#hb)" stroke="#111" stroke-width="4.6" stroke-linejoin="round"/><line x1="1031.08" y1="1236.4" x2="1031.08" y2="1248.40" stroke="#111" stroke-width="3.5"/><g transform="translate(1039.58,1276.40) rotate(-45)"><text x="0.00" y="0.00" font-size="29.5" font-weight="normal" stroke="#111" stroke-width="0.85" text-anchor="end" fill="#111">6h</text></g><line x1="1104.72" y1="1116.70" x2="1104.72" y2="1137.80" stroke="#111" stroke-width="4.4"/><line x1="1093.22" y1="1116.70" x2="1116.22" y2="1116.70" stroke="#111" stroke-width="4.4" stroke-linecap="round"/><rect x="1080.72" y="1139.10" width="48.00" height="97.30" fill="url(#hb)" stroke="#111" stroke-width="4.6" stroke-linejoin="round"/><line x1="1104.72" y1="1236.4" x2="1104.72" y2="1248.40" stroke="#111" stroke-width="3.5"/><g transform="translate(1113.22,1276.40) rotate(-45)"><path d="M-40.82 0.00 L-40.82 -17.82 L-46.01 -14.55 L-46.01 -17.00 L-40.61 -20.30 L-38.21 -20.30 L-38.21 0.00 Z" stroke="#111" stroke-width="0.85" fill="#111"/><text x="-32.81" y="0.00" font-size="29.5" font-weight="normal" stroke="#111" stroke-width="0.85" fill="#111">2h</text></g><path d="M1104.72 1100.20L1104.72 1096.00M1104.72 1100.20L1108.71 1098.90M1104.72 1100.20L1107.19 1103.60M1104.72 1100.20L1102.25 1103.60M1104.72 1100.20L1100.73 1098.90" stroke="#111" stroke-width="2.7" stroke-linecap="round" fill="none"/><line x1="1178.36" y1="1038.40" x2="1178.36" y2="1071.30" stroke="#111" stroke-width="4.4"/><line x1="1166.86" y1="1038.40" x2="1189.86" y2="1038.40" stroke="#111" stroke-width="4.4" stroke-linecap="round"/><rect x="1154.36" y="1072.60" width="48.00" height="163.80" fill="url(#hb)" stroke="#111" stroke-width="4.6" stroke-linejoin="round"/><line x1="1178.36" y1="1236.4" x2="1178.36" y2="1248.40" stroke="#111" stroke-width="3.5"/><g transform="translate(1186.86,1276.40) rotate(-45)"><text x="0.00" y="0.00" font-size="29.5" font-weight="normal" stroke="#111" stroke-width="0.85" text-anchor="end" fill="#111">24h</text></g><path d="M1171.61 1023.15L1171.61 1018.95M1171.61 1023.15L1175.60 1021.85M1171.61 1023.15L1174.08 1026.55M1171.61 1023.15L1169.14 1026.55M1171.61 1023.15L1167.62 1021.85" stroke="#111" stroke-width="2.7" stroke-linecap="round" fill="none"/><path d="M1185.11 1023.15L1185.11 1018.95M1185.11 1023.15L1189.10 1021.85M1185.11 1023.15L1187.58 1026.55M1185.11 1023.15L1182.64 1026.55M1185.11 1023.15L1181.12 1021.85" stroke="#111" stroke-width="2.7" stroke-linecap="round" fill="none"/><line x1="1252.00" y1="833.20" x2="1252.00" y2="889.40" stroke="#111" stroke-width="4.4"/><line x1="1240.50" y1="833.20" x2="1263.50" y2="833.20" stroke="#111" stroke-width="4.4" stroke-linecap="round"/><rect x="1228.00" y="890.70" width="48.00" height="345.70" fill="url(#hb)" stroke="#111" stroke-width="4.6" stroke-linejoin="round"/><line x1="1252.00" y1="1236.4" x2="1252.00" y2="1248.40" stroke="#111" stroke-width="3.5"/><g transform="translate(1260.50,1276.40) rotate(-45)"><text x="0.00" y="0.00" font-size="29.5" font-weight="normal" stroke="#111" stroke-width="0.85" text-anchor="end" fill="#111">48h</text></g><path d="M1238.50 814.75L1238.50 810.55M1238.50 814.75L1242.49 813.45M1238.50 814.75L1240.97 818.15M1238.50 814.75L1236.03 818.15M1238.50 814.75L1234.51 813.45" stroke="#111" stroke-width="2.7" stroke-linecap="round" fill="none"/><path d="M1252.00 814.75L1252.00 810.55M1252.00 814.75L1255.99 813.45M1252.00 814.75L1254.47 818.15M1252.00 814.75L1249.53 818.15M1252.00 814.75L1248.01 813.45" stroke="#111" stroke-width="2.7" stroke-linecap="round" fill="none"/><path d="M1265.50 814.75L1265.50 810.55M1265.50 814.75L1269.49 813.45M1265.50 814.75L1267.97 818.15M1265.50 814.75L1263.03 818.15M1265.50 814.75L1261.51 813.45" stroke="#111" stroke-width="2.7" stroke-linecap="round" fill="none"/><line x1="1325.64" y1="922.80" x2="1325.64" y2="942.80" stroke="#111" stroke-width="4.4"/><line x1="1314.14" y1="922.80" x2="1337.14" y2="922.80" stroke="#111" stroke-width="4.4" stroke-linecap="round"/><rect x="1301.64" y="944.10" width="48.00" height="292.30" fill="url(#hb)" stroke="#111" stroke-width="4.6" stroke-linejoin="round"/><line x1="1325.64" y1="1236.4" x2="1325.64" y2="1248.40" stroke="#111" stroke-width="3.5"/><g transform="translate(1334.14,1276.40) rotate(-45)"><text x="0.00" y="0.00" font-size="29.5" font-weight="normal" stroke="#111" stroke-width="0.85" text-anchor="end" fill="#111">72h</text></g><path d="M1312.14 903.20L1312.14 899.00M1312.14 903.20L1316.13 901.90M1312.14 903.20L1314.61 906.60M1312.14 903.20L1309.67 906.60M1312.14 903.20L1308.15 901.90" stroke="#111" stroke-width="2.7" stroke-linecap="round" fill="none"/><path d="M1325.64 903.20L1325.64 899.00M1325.64 903.20L1329.63 901.90M1325.64 903.20L1328.11 906.60M1325.64 903.20L1323.17 906.60M1325.64 903.20L1321.65 901.90" stroke="#111" stroke-width="2.7" stroke-linecap="round" fill="none"/><path d="M1339.14 903.20L1339.14 899.00M1339.14 903.20L1343.13 901.90M1339.14 903.20L1341.61 906.60M1339.14 903.20L1336.67 906.60M1339.14 903.20L1335.15 901.90" stroke="#111" stroke-width="2.7" stroke-linecap="round" fill="none"/><line x1="1399.28" y1="1180.40" x2="1399.28" y2="1188.60" stroke="#111" stroke-width="4.4"/><line x1="1387.78" y1="1180.40" x2="1410.78" y2="1180.40" stroke="#111" stroke-width="4.4" stroke-linecap="round"/><rect x="1375.28" y="1189.90" width="48.00" height="46.50" fill="url(#hb)" stroke="#111" stroke-width="4.6" stroke-linejoin="round"/><line x1="1399.28" y1="1236.4" x2="1399.28" y2="1248.40" stroke="#111" stroke-width="3.5"/><g transform="translate(1407.78,1276.40) rotate(-45)"><text x="0.00" y="0.00" font-size="29.5" font-weight="normal" stroke="#111" stroke-width="0.85" text-anchor="end" fill="#111">96h</text></g><text transform="translate(788.4,987.7) rotate(-90)" font-size="30" font-weight="bold" text-anchor="middle" fill="#111">Relative expression of <tspan font-style="italic">NHE</tspan> mRNA</text><text x="1007.65" y="1345.8" font-size="31" font-weight="bold" fill="#111">Time elapsed(h)</text><text x="722.8" y="715.3" font-size="34.5" font-weight="bold" fill="#000">D</text>
<line x1="118.5" y1="1401.95" x2="118.5" y2="1821.2" stroke="#111" stroke-width="2.9"/><line x1="110.5" y1="1821.20" x2="118.5" y2="1821.20" stroke="#111" stroke-width="2.7"/><text x="107.50" y="1827.43" font-size="21" font-weight="bold"  text-anchor="end" fill="#111">0</text><line x1="110.5" y1="1751.48" x2="118.5" y2="1751.48" stroke="#111" stroke-width="2.7"/><text x="107.50" y="1757.72" font-size="21" font-weight="bold"  text-anchor="end" fill="#111">2</text><line x1="110.5" y1="1681.77" x2="118.5" y2="1681.77" stroke="#111" stroke-width="2.7"/><text x="107.50" y="1688.00" font-size="21" font-weight="bold"  text-anchor="end" fill="#111">4</text><line x1="110.5" y1="1612.05" x2="118.5" y2="1612.05" stroke="#111" stroke-width="2.7"/><text x="107.50" y="1618.28" font-size="21" font-weight="bold"  text-anchor="end" fill="#111">6</text><line x1="110.5" y1="1542.33" x2="118.5" y2="1542.33" stroke="#111" stroke-width="2.7"/><text x="107.50" y="1548.57" font-size="21" font-weight="bold"  text-anchor="end" fill="#111">8</text><line x1="110.5" y1="1472.62" x2="118.5" y2="1472.62" stroke="#111" stroke-width="2.7"/><path d="M89.88 1478.85 L89.88 1466.85 L85.99 1469.02 L85.99 1466.75 L90.04 1464.40 L92.77 1464.40 L92.77 1478.85 Z"  fill="#111"/><text x="95.82" y="1478.85" font-size="21" font-weight="bold"  fill="#111">0</text><line x1="110.5" y1="1402.90" x2="118.5" y2="1402.90" stroke="#111" stroke-width="2.7"/><path d="M89.88 1409.13 L89.88 1397.14 L85.99 1399.30 L85.99 1397.03 L90.04 1394.69 L92.77 1394.69 L92.77 1409.13 Z"  fill="#111"/><text x="95.82" y="1409.13" font-size="21" font-weight="bold"  fill="#111">2</text><line x1="110.5" y1="1821.2" x2="700.2" y2="1821.2" stroke="#111" stroke-width="2.9"/><line x1="154.80" y1="1779.40" x2="154.80" y2="1785.50" stroke="#111" stroke-width="3.1"/><line x1="143.30" y1="1779.40" x2="166.30" y2="1779.40" stroke="#111" stroke-width="3.1" stroke-linecap="round"/><rect x="130.70" y="1786.15" width="48.20" height="35.05" fill="url(#hs)" stroke="#111" stroke-width="3.3" stroke-linejoin="round"/><line x1="154.80" y1="1821.2" x2="154.80" y2="1829.65" stroke="#111" stroke-width="2.7"/><g transform="translate(160.80,1848.70) rotate(-45)"><text x="0.00" y="0.00" font-size="20.5" font-weight="bold"  text-anchor="end" fill="#111">0h</text></g><line x1="215.87" y1="1785.50" x2="238.87" y2="1785.50" stroke="#111" stroke-width="3.1" stroke-linecap="round"/><rect x="203.27" y="1786.15" width="48.20" height="35.05" fill="url(#hs)" stroke="#111" stroke-width="3.3" stroke-linejoin="round"/><line x1="227.37" y1="1821.2" x2="227.37" y2="1829.65" stroke="#111" stroke-width="2.7"/><g transform="translate(233.37,1848.70) rotate(-45)"><text x="0.00" y="0.00" font-size="20.5" font-weight="bold"  text-anchor="end" fill="#111">3h</text></g><line x1="299.94" y1="1750.00" x2="299.94" y2="1760.80" stroke="#111" stroke-width="3.1"/><line x1="288.44" y1="1750.00" x2="311.44" y2="1750.00" stroke="#111" stroke-width="3.1" stroke-linecap="round"/><rect x="275.84" y="1761.45" width="48.20" height="59.75" fill="url(#hs)" stroke="#111" stroke-width="3.3" stroke-linejoin="round"/><line x1="299.94" y1="1821.2" x2="299.94" y2="1829.65" stroke="#111" stroke-width="2.7"/><g transform="translate(305.94,1848.70) rotate(-45)"><text x="0.00" y="0.00" font-size="20.5" font-weight="bold"  text-anchor="end" fill="#111">6h</text></g><line x1="372.51" y1="1719.70" x2="372.51" y2="1740.20" stroke="#111" stroke-width="3.1"/><line x1="361.01" y1="1719.70" x2="384.01" y2="1719.70" stroke="#111" stroke-width="3.1" stroke-linecap="round"/><rect x="348.41" y="1740.85" width="48.20" height="80.35" fill="url(#hs)" stroke="#111" stroke-width="3.3" stroke-linejoin="round"/><line x1="372.51" y1="1821.2" x2="372.51" y2="1829.65" stroke="#111" stroke-width="2.7"/><g transform="translate(378.51,1848.70) rotate(-45)"><path d="M-29.72 0.00 L-29.72 -11.71 L-33.52 -9.60 L-33.52 -11.81 L-29.57 -14.10 L-26.91 -14.10 L-26.91 0.00 Z"  fill="#111"/><text x="-23.92" y="0.00" font-size="20.5" font-weight="bold"  fill="#111">2h</text></g><path d="M372.51 1695.50L372.51 1693.00M372.51 1695.50L374.89 1694.73M372.51 1695.50L373.98 1697.52M372.51 1695.50L371.04 1697.52M372.51 1695.50L370.13 1694.73" stroke="#111" stroke-width="2.3" stroke-linecap="round" fill="none"/><line x1="445.08" y1="1714.60" x2="445.08" y2="1724.20" stroke="#111" stroke-width="3.1"/><line x1="433.58" y1="1714.60" x2="456.58" y2="1714.60" stroke="#111" stroke-width="3.1" stroke-linecap="round"/><rect x="420.98" y="1724.85" width="48.20" height="96.35" fill="url(#hs)" stroke="#111" stroke-width="3.3" stroke-linejoin="round"/><line x1="445.08" y1="1821.2" x2="445.08" y2="1829.65" stroke="#111" stroke-width="2.7"/><g transform="translate(451.08,1848.70) rotate(-45)"><text x="0.00" y="0.00" font-size="20.5" font-weight="bold"  text-anchor="end" fill="#111">24h</text></g><path d="M440.33 1690.20L440.33 1687.70M440.33 1690.20L442.71 1689.43M440.33 1690.20L441.80 1692.22M440.33 1690.20L438.86 1692.22M440.33 1690.20L437.95 1689.43" stroke="#111" stroke-width="2.3" stroke-linecap="round" fill="none"/><path d="M449.83 1690.20L449.83 1687.70M449.83 1690.20L452.21 1689.43M449.83 1690.20L451.30 1692.22M449.83 1690.20L448.36 1692.22M449.83 1690.20L447.45 1689.43" stroke="#111" stroke-width="2.3" stroke-linecap="round" fill="none"/><line x1="517.65" y1="1570.80" x2="517.65" y2="1612.70" stroke="#111" stroke-width="3.1"/><line x1="506.15" y1="1570.80" x2="529.15" y2="1570.80" stroke="#111" stroke-width="3.1" stroke-linecap="round"/><rect x="493.55" y="1613.35" width="48.20" height="207.85" fill="url(#hs)" stroke="#111" stroke-width="3.3" stroke-linejoin="round"/><line x1="517.65" y1="1821.2" x2="517.65" y2="1829.65" stroke="#111" stroke-width="2.7"/><g transform="translate(523.65,1848.70) rotate(-45)"><text x="0.00" y="0.00" font-size="20.5" font-weight="bold"  text-anchor="end" fill="#111">48h</text></g><path d="M508.15 1548.50L508.15 1546.00M508.15 1548.50L510.53 1547.73M508.15 1548.50L509.62 1550.52M508.15 1548.50L506.68 1550.52M508.15 1548.50L505.77 1547.73" stroke="#111" stroke-width="2.3" stroke-linecap="round" fill="none"/><path d="M517.65 1548.50L517.65 1546.00M517.65 1548.50L520.03 1547.73M517.65 1548.50L519.12 1550.52M517.65 1548.50L516.18 1550.52M517.65 1548.50L515.27 1547.73" stroke="#111" stroke-width="2.3" stroke-linecap="round" fill="none"/><path d="M527.15 1548.50L527.15 1546.00M527.15 1548.50L529.53 1547.73M527.15 1548.50L528.62 1550.52M527.15 1548.50L525.68 1550.52M527.15 1548.50L524.77 1547.73" stroke="#111" stroke-width="2.3" stroke-linecap="round" fill="none"/><line x1="590.22" y1="1511.90" x2="590.22" y2="1549.30" stroke="#111" stroke-width="3.1"/><line x1="578.72" y1="1511.90" x2="601.72" y2="1511.90" stroke="#111" stroke-width="3.1" stroke-linecap="round"/><rect x="566.12" y="1549.95" width="48.20" height="271.25" fill="url(#hs)" stroke="#111" stroke-width="3.3" stroke-linejoin="round"/><line x1="590.22" y1="1821.2" x2="590.22" y2="1829.65" stroke="#111" stroke-width="2.7"/><g transform="translate(596.22,1848.70) rotate(-45)"><text x="0.00" y="0.00" font-size="20.5" font-weight="bold"  text-anchor="end" fill="#111">72h</text></g><path d="M580.72 1486.70L580.72 1484.20M580.72 1486.70L583.10 1485.93M580.72 1486.70L582.19 1488.72M580.72 1486.70L579.25 1488.72M580.72 1486.70L578.34 1485.93" stroke="#111" stroke-width="2.3" stroke-linecap="round" fill="none"/><path d="M590.22 1486.70L590.22 1484.20M590.22 1486.70L592.60 1485.93M590.22 1486.70L591.69 1488.72M590.22 1486.70L588.75 1488.72M590.22 1486.70L587.84 1485.93" stroke="#111" stroke-width="2.3" stroke-linecap="round" fill="none"/><path d="M599.72 1486.70L599.72 1484.20M599.72 1486.70L602.10 1485.93M599.72 1486.70L601.19 1488.72M599.72 1486.70L598.25 1488.72M599.72 1486.70L597.34 1485.93" stroke="#111" stroke-width="2.3" stroke-linecap="round" fill="none"/><line x1="662.79" y1="1461.30" x2="662.79" y2="1519.70" stroke="#111" stroke-width="3.1"/><line x1="651.29" y1="1461.30" x2="674.29" y2="1461.30" stroke="#111" stroke-width="3.1" stroke-linecap="round"/><rect x="638.69" y="1520.35" width="48.20" height="300.85" fill="url(#hs)" stroke="#111" stroke-width="3.3" stroke-linejoin="round"/><line x1="662.79" y1="1821.2" x2="662.79" y2="1829.65" stroke="#111" stroke-width="2.7"/><g transform="translate(668.79,1848.70) rotate(-45)"><text x="0.00" y="0.00" font-size="20.5" font-weight="bold"  text-anchor="end" fill="#111">96h</text></g><path d="M653.29 1439.50L653.29 1437.00M653.29 1439.50L655.67 1438.73M653.29 1439.50L654.76 1441.52M653.29 1439.50L651.82 1441.52M653.29 1439.50L650.91 1438.73" stroke="#111" stroke-width="2.3" stroke-linecap="round" fill="none"/><path d="M662.79 1439.50L662.79 1437.00M662.79 1439.50L665.17 1438.73M662.79 1439.50L664.26 1441.52M662.79 1439.50L661.32 1441.52M662.79 1439.50L660.41 1438.73" stroke="#111" stroke-width="2.3" stroke-linecap="round" fill="none"/><path d="M672.29 1439.50L672.29 1437.00M672.29 1439.50L674.67 1438.73M672.29 1439.50L673.76 1441.52M672.29 1439.50L670.82 1441.52M672.29 1439.50L669.91 1438.73" stroke="#111" stroke-width="2.3" stroke-linecap="round" fill="none"/><text transform="translate(59.9,1619.7) rotate(-90)" font-size="30" font-weight="bold" text-anchor="middle" fill="#111">Relative expression of <tspan font-style="italic">ASS</tspan> mRNA</text><text x="313.56" y="1898" font-size="21.7" font-weight="bold" fill="#111">Time elapsed(h)</text><text x="3.7" y="1364.3" font-size="34.5" font-weight="bold" fill="#000">E</text>
<line x1="861.2" y1="1384.95" x2="861.2" y2="1824" stroke="#111" stroke-width="2.9"/><line x1="853.4" y1="1824.00" x2="861.2" y2="1824.00" stroke="#111" stroke-width="2.7"/><text x="849.90" y="1831.12" font-size="23.5" font-weight="bold"  text-anchor="end" fill="#111">0</text><line x1="853.4" y1="1761.41" x2="861.2" y2="1761.41" stroke="#111" stroke-width="2.7"/><path d="M843.26 1768.53 L843.26 1755.11 L838.90 1757.53 L838.90 1754.99 L843.43 1752.37 L846.48 1752.37 L846.48 1768.53 Z"  fill="#111"/><line x1="853.4" y1="1698.83" x2="861.2" y2="1698.83" stroke="#111" stroke-width="2.7"/><text x="849.90" y="1705.95" font-size="23.5" font-weight="bold"  text-anchor="end" fill="#111">2</text><line x1="853.4" y1="1636.24" x2="861.2" y2="1636.24" stroke="#111" stroke-width="2.7"/><text x="849.90" y="1643.36" font-size="23.5" font-weight="bold"  text-anchor="end" fill="#111">3</text><line x1="853.4" y1="1573.66" x2="861.2" y2="1573.66" stroke="#111" stroke-width="2.7"/><text x="849.90" y="1580.78" font-size="23.5" font-weight="bold"  text-anchor="end" fill="#111">4</text><line x1="853.4" y1="1511.07" x2="861.2" y2="1511.07" stroke="#111" stroke-width="2.7"/><text x="849.90" y="1518.19" font-size="23.5" font-weight="bold"  text-anchor="end" fill="#111">5</text><line x1="853.4" y1="1448.49" x2="861.2" y2="1448.49" stroke="#111" stroke-width="2.7"/><text x="849.90" y="1455.60" font-size="23.5" font-weight="bold"  text-anchor="end" fill="#111">6</text><line x1="853.4" y1="1385.90" x2="861.2" y2="1385.90" stroke="#111" stroke-width="2.7"/><text x="849.90" y="1393.02" font-size="23.5" font-weight="bold"  text-anchor="end" fill="#111">7</text><line x1="853.4" y1="1824" x2="1444.8" y2="1824" stroke="#111" stroke-width="2.9"/><line x1="897.10" y1="1754.20" x2="897.10" y2="1760.90" stroke="#111" stroke-width="3.4"/><line x1="884.85" y1="1754.20" x2="909.35" y2="1754.20" stroke="#111" stroke-width="3.4" stroke-linecap="round"/><rect x="873.40" y="1761.70" width="47.40" height="62.30" fill="url(#hs)" stroke="#111" stroke-width="3.6" stroke-linejoin="round"/><line x1="897.10" y1="1824" x2="897.10" y2="1832.45" stroke="#111" stroke-width="2.7"/><g transform="translate(904.60,1854.50) rotate(-45)"><text x="0.00" y="0.00" font-size="22" font-weight="bold"  text-anchor="end" fill="#111">0h</text></g><line x1="969.66" y1="1626.70" x2="969.66" y2="1663.10" stroke="#111" stroke-width="3.4"/><line x1="957.41" y1="1626.70" x2="981.91" y2="1626.70" stroke="#111" stroke-width="3.4" stroke-linecap="round"/><rect x="945.96" y="1663.90" width="47.40" height="160.10" fill="url(#hs)" stroke="#111" stroke-width="3.6" stroke-linejoin="round"/><line x1="969.66" y1="1824" x2="969.66" y2="1832.45" stroke="#111" stroke-width="2.7"/><g transform="translate(977.16,1854.50) rotate(-45)"><text x="0.00" y="0.00" font-size="22" font-weight="bold"  text-anchor="end" fill="#111">3h</text></g><path d="M959.26 1603.60L959.26 1600.70M959.26 1603.60L962.02 1602.70M959.26 1603.60L960.96 1605.95M959.26 1603.60L957.56 1605.95M959.26 1603.60L956.50 1602.70" stroke="#111" stroke-width="2.6" stroke-linecap="round" fill="none"/><path d="M969.66 1603.60L969.66 1600.70M969.66 1603.60L972.42 1602.70M969.66 1603.60L971.36 1605.95M969.66 1603.60L967.96 1605.95M969.66 1603.60L966.90 1602.70" stroke="#111" stroke-width="2.6" stroke-linecap="round" fill="none"/><path d="M980.06 1603.60L980.06 1600.70M980.06 1603.60L982.82 1602.70M980.06 1603.60L981.76 1605.95M980.06 1603.60L978.36 1605.95M980.06 1603.60L977.30 1602.70" stroke="#111" stroke-width="2.6" stroke-linecap="round" fill="none"/><line x1="1042.22" y1="1534.60" x2="1042.22" y2="1582.90" stroke="#111" stroke-width="3.4"/><line x1="1029.97" y1="1534.60" x2="1054.47" y2="1534.60" stroke="#111" stroke-width="3.4" stroke-linecap="round"/><rect x="1018.52" y="1583.70" width="47.40" height="240.30" fill="url(#hs)" stroke="#111" stroke-width="3.6" stroke-linejoin="round"/><line x1="1042.22" y1="1824" x2="1042.22" y2="1832.45" stroke="#111" stroke-width="2.7"/><g transform="translate(1049.72,1854.50) rotate(-45)"><text x="0.00" y="0.00" font-size="22" font-weight="bold"  text-anchor="end" fill="#111">6h</text></g><path d="M1031.82 1512.40L1031.82 1509.50M1031.82 1512.40L1034.58 1511.50M1031.82 1512.40L1033.52 1514.75M1031.82 1512.40L1030.12 1514.75M1031.82 1512.40L1029.06 1511.50" stroke="#111" stroke-width="2.6" stroke-linecap="round" fill="none"/><path d="M1042.22 1512.40L1042.22 1509.50M1042.22 1512.40L1044.98 1511.50M1042.22 1512.40L1043.92 1514.75M1042.22 1512.40L1040.52 1514.75M1042.22 1512.40L1039.46 1511.50" stroke="#111" stroke-width="2.6" stroke-linecap="round" fill="none"/><path d="M1052.62 1512.40L1052.62 1509.50M1052.62 1512.40L1055.38 1511.50M1052.62 1512.40L1054.32 1514.75M1052.62 1512.40L1050.92 1514.75M1052.62 1512.40L1049.86 1511.50" stroke="#111" stroke-width="2.6" stroke-linecap="round" fill="none"/><line x1="1114.78" y1="1484.20" x2="1114.78" y2="1519.10" stroke="#111" stroke-width="3.4"/><line x1="1102.53" y1="1484.20" x2="1127.03" y2="1484.20" stroke="#111" stroke-width="3.4" stroke-linecap="round"/><rect x="1091.08" y="1519.90" width="47.40" height="304.10" fill="url(#hs)" stroke="#111" stroke-width="3.6" stroke-linejoin="round"/><line x1="1114.78" y1="1824" x2="1114.78" y2="1832.45" stroke="#111" stroke-width="2.7"/><g transform="translate(1122.28,1854.50) rotate(-45)"><path d="M-31.89 0.00 L-31.89 -12.57 L-35.98 -10.30 L-35.98 -12.68 L-31.73 -15.14 L-28.88 -15.14 L-28.88 0.00 Z"  fill="#111"/><text x="-25.67" y="0.00" font-size="22" font-weight="bold"  fill="#111">2h</text></g><path d="M1104.38 1459.40L1104.38 1456.50M1104.38 1459.40L1107.14 1458.50M1104.38 1459.40L1106.08 1461.75M1104.38 1459.40L1102.68 1461.75M1104.38 1459.40L1101.62 1458.50" stroke="#111" stroke-width="2.6" stroke-linecap="round" fill="none"/><path d="M1114.78 1459.40L1114.78 1456.50M1114.78 1459.40L1117.54 1458.50M1114.78 1459.40L1116.48 1461.75M1114.78 1459.40L1113.08 1461.75M1114.78 1459.40L1112.02 1458.50" stroke="#111" stroke-width="2.6" stroke-linecap="round" fill="none"/><path d="M1125.18 1459.40L1125.18 1456.50M1125.18 1459.40L1127.94 1458.50M1125.18 1459.40L1126.88 1461.75M1125.18 1459.40L1123.48 1461.75M1125.18 1459.40L1122.42 1458.50" stroke="#111" stroke-width="2.6" stroke-linecap="round" fill="none"/><line x1="1187.34" y1="1568.30" x2="1187.34" y2="1596.70" stroke="#111" stroke-width="3.4"/><line x1="1175.09" y1="1568.30" x2="1199.59" y2="1568.30" stroke="#111" stroke-width="3.4" stroke-linecap="round"/><rect x="1163.64" y="1597.50" width="47.40" height="226.50" fill="url(#hs)" stroke="#111" stroke-width="3.6" stroke-linejoin="round"/><line x1="1187.34" y1="1824" x2="1187.34" y2="1832.45" stroke="#111" stroke-width="2.7"/><g transform="translate(1194.84,1854.50) rotate(-45)"><text x="0.00" y="0.00" font-size="22" font-weight="bold"  text-anchor="end" fill="#111">24h</text></g><path d="M1176.94 1540.70L1176.94 1537.80M1176.94 1540.70L1179.70 1539.80M1176.94 1540.70L1178.64 1543.05M1176.94 1540.70L1175.24 1543.05M1176.94 1540.70L1174.18 1539.80" stroke="#111" stroke-width="2.6" stroke-linecap="round" fill="none"/><path d="M1187.34 1540.70L1187.34 1537.80M1187.34 1540.70L1190.10 1539.80M1187.34 1540.70L1189.04 1543.05M1187.34 1540.70L1185.64 1543.05M1187.34 1540.70L1184.58 1539.80" stroke="#111" stroke-width="2.6" stroke-linecap="round" fill="none"/><path d="M1197.74 1540.70L1197.74 1537.80M1197.74 1540.70L1200.50 1539.80M1197.74 1540.70L1199.44 1543.05M1197.74 1540.70L1196.04 1543.05M1197.74 1540.70L1194.98 1539.80" stroke="#111" stroke-width="2.6" stroke-linecap="round" fill="none"/><line x1="1259.90" y1="1659.30" x2="1259.90" y2="1692.10" stroke="#111" stroke-width="3.4"/><line x1="1247.65" y1="1659.30" x2="1272.15" y2="1659.30" stroke="#111" stroke-width="3.4" stroke-linecap="round"/><rect x="1236.20" y="1692.90" width="47.40" height="131.10" fill="url(#hs)" stroke="#111" stroke-width="3.6" stroke-linejoin="round"/><line x1="1259.90" y1="1824" x2="1259.90" y2="1832.45" stroke="#111" stroke-width="2.7"/><g transform="translate(1267.40,1854.50) rotate(-45)"><text x="0.00" y="0.00" font-size="22" font-weight="bold"  text-anchor="end" fill="#111">48h</text></g><path d="M1254.70 1630.65L1254.70 1627.75M1254.70 1630.65L1257.46 1629.75M1254.70 1630.65L1256.40 1633.00M1254.70 1630.65L1253.00 1633.00M1254.70 1630.65L1251.94 1629.75" stroke="#111" stroke-width="2.6" stroke-linecap="round" fill="none"/><path d="M1265.10 1630.65L1265.10 1627.75M1265.10 1630.65L1267.86 1629.75M1265.10 1630.65L1266.80 1633.00M1265.10 1630.65L1263.40 1633.00M1265.10 1630.65L1262.34 1629.75" stroke="#111" stroke-width="2.6" stroke-linecap="round" fill="none"/><line x1="1332.46" y1="1675.30" x2="1332.46" y2="1707.00" stroke="#111" stroke-width="3.4"/><line x1="1320.21" y1="1675.30" x2="1344.71" y2="1675.30" stroke="#111" stroke-width="3.4" stroke-linecap="round"/><rect x="1308.76" y="1707.80" width="47.40" height="116.20" fill="url(#hs)" stroke="#111" stroke-width="3.6" stroke-linejoin="round"/><line x1="1332.46" y1="1824" x2="1332.46" y2="1832.45" stroke="#111" stroke-width="2.7"/><g transform="translate(1339.96,1854.50) rotate(-45)"><text x="0.00" y="0.00" font-size="22" font-weight="bold"  text-anchor="end" fill="#111">72h</text></g><path d="M1332.46 1654.20L1332.46 1651.30M1332.46 1654.20L1335.22 1653.30M1332.46 1654.20L1334.16 1656.55M1332.46 1654.20L1330.76 1656.55M1332.46 1654.20L1329.70 1653.30" stroke="#111" stroke-width="2.6" stroke-linecap="round" fill="none"/><line x1="1405.02" y1="1686.70" x2="1405.02" y2="1716.90" stroke="#111" stroke-width="3.4"/><line x1="1392.77" y1="1686.70" x2="1417.27" y2="1686.70" stroke="#111" stroke-width="3.4" stroke-linecap="round"/><rect x="1381.32" y="1717.70" width="47.40" height="106.30" fill="url(#hs)" stroke="#111" stroke-width="3.6" stroke-linejoin="round"/><line x1="1405.02" y1="1824" x2="1405.02" y2="1832.45" stroke="#111" stroke-width="2.7"/><g transform="translate(1412.52,1854.50) rotate(-45)"><text x="0.00" y="0.00" font-size="22" font-weight="bold"  text-anchor="end" fill="#111">96h</text></g><path d="M1405.02 1665.75L1405.02 1662.85M1405.02 1665.75L1407.78 1664.85M1405.02 1665.75L1406.72 1668.10M1405.02 1665.75L1403.32 1668.10M1405.02 1665.75L1402.26 1664.85" stroke="#111" stroke-width="2.6" stroke-linecap="round" fill="none"/><text transform="translate(802.4,1617.7) rotate(-90)" font-size="30" font-weight="bold" text-anchor="middle" textLength="496.0" lengthAdjust="spacingAndGlyphs" fill="#111">Relative expression of <tspan font-style="italic">ARG</tspan> mRNA</text><text x="1046.63" y="1907.9" font-size="23.9" font-weight="bold" fill="#111">Time elapsed(h)</text><text x="722.6" y="1363.8" font-size="34.5" font-weight="bold" fill="#000">F</text>
<rect x="114" y="11" width="8" height="2.2" fill="#eaeaea"/><rect x="127" y="11" width="8" height="2.2" fill="#eaeaea"/>
<rect x="837" y="721" width="16" height="2" fill="#d9d9d9"/>
<circle cx="828.1" cy="1702.9" r="1.3" fill="#777"/>
</svg></body></html>
